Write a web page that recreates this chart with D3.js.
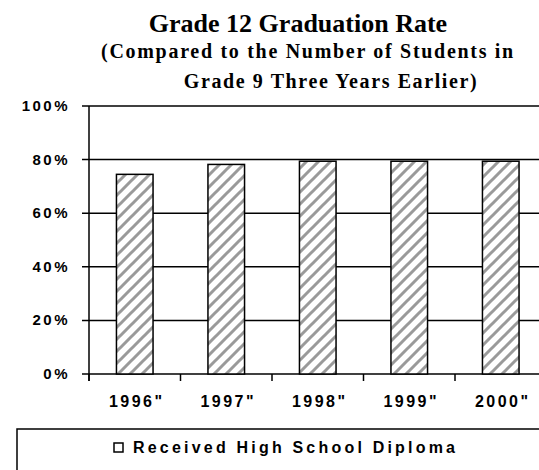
<!DOCTYPE html>
<html>
<head>
<meta charset="utf-8">
<script src="https://cdn.jsdelivr.net/npm/d3@7"></script>
<style>
  body { margin: 0; background: #fff; overflow: hidden; }
  svg { display: block; }
  .ttl { font-family: "Liberation Serif", "Times New Roman", serif; font-weight: bold; }
  .lbl { font-family: "Liberation Sans", Arial, sans-serif; font-weight: bold; }
</style>
</head>
<body>
<svg id="chart" width="539" height="470"></svg>
<script>
// chart data
var years = ["1996\"", "1997\"", "1998\"", "1999\"", "2000\""];
var gradRate = [74.5, 78.2, 79.4, 79.4, 79.4];
var yTicks = [0, 20, 40, 60, 80, 100];
var seriesName = "Received High School Diploma";

var svg = d3.select("#chart");

var x = d3.scaleBand().domain(years).range([89, 546.5]).paddingInner(0.6).paddingOuter(0.3);
var y = d3.scaleLinear().domain([0, 100]).range([374, 106]);

// hatch pattern
var defs = svg.append("defs");
var pat = defs.append("pattern")
    .attr("id", "hatch")
    .attr("patternUnits", "userSpaceOnUse")
    .attr("width", 12).attr("height", 12);
pat.append("rect").attr("width", 12).attr("height", 12).attr("fill", "#fff");
pat.append("path")
    .attr("d", "M-3,3 L3,-3 M0,12 L12,0 M9,15 L15,9")
    .attr("stroke", "#9a9a9a").attr("stroke-width", 3);

// titles
svg.append("text").attr("class", "ttl").attr("x", 298).attr("y", 32)
    .attr("text-anchor", "middle").attr("font-size", 26).text("Grade 12 Graduation Rate");
svg.append("text").attr("class", "ttl").attr("x", 308).attr("y", 58)
    .attr("text-anchor", "middle").attr("font-size", 20).attr("letter-spacing", 1.7)
    .text("(Compared to the Number of Students in");
svg.append("text").attr("class", "ttl").attr("x", 331).attr("y", 88)
    .attr("text-anchor", "middle").attr("font-size", 20).attr("letter-spacing", 1.6)
    .text("Grade 9 Three Years Earlier)");

// gridlines + y ticks
var g = svg.append("g");
g.selectAll(".grid").data(yTicks).enter().append("line")
    .attr("x1", 82).attr("x2", 560)
    .attr("y1", function(d) { return y(d); })
    .attr("y2", function(d) { return y(d); })
    .attr("stroke", "#000").attr("stroke-width", 1.5);

g.selectAll(".ylbl").data(yTicks).enter().append("text")
    .attr("class", "lbl")
    .attr("x", 70)
    .attr("y", function(d) { return y(d) + 5; })
    .attr("text-anchor", "end")
    .attr("font-size", 15)
    .attr("letter-spacing", 2.5)
    .text(function(d) { return d + "%"; });

// y axis line
g.append("line").attr("x1", 89).attr("x2", 89).attr("y1", y(100)).attr("y2", 381)
    .attr("stroke", "#000").attr("stroke-width", 1.5);

// x boundary ticks
var step = x.step();
var bounds = d3.range(years.length + 1).map(function(i) { return x.range()[0] + i * step; });
g.selectAll(".xtick").data(bounds).enter().append("line")
    .attr("x1", function(d) { return d; }).attr("x2", function(d) { return d; })
    .attr("y1", y(0)).attr("y2", 381)
    .attr("stroke", "#000").attr("stroke-width", 1.5);

// bars
g.selectAll(".bar").data(gradRate).enter().append("rect")
    .attr("x", function(d, i) { return x(years[i]); })
    .attr("y", function(d) { return y(d); })
    .attr("width", x.bandwidth())
    .attr("height", function(d) { return y(0) - y(d); })
    .attr("fill", "url(#hatch)")
    .attr("stroke", "#000").attr("stroke-width", 1.5);

// x labels
g.selectAll(".xlbl").data(years).enter().append("text")
    .attr("class", "lbl")
    .attr("x", function(d) { return x(d) + x.bandwidth() / 2 + 2; })
    .attr("y", 407)
    .attr("text-anchor", "middle")
    .attr("font-size", 16)
    .attr("letter-spacing", 2.5)
    .text(function(d) { return d; });

// legend
var lg = svg.append("g");
lg.append("rect").attr("x", 17).attr("y", 429).attr("width", 600).attr("height", 100)
    .attr("fill", "#fff").attr("stroke", "#000").attr("stroke-width", 1.5);
lg.append("rect").attr("x", 114).attr("y", 443).attr("width", 9).attr("height", 9)
    .attr("fill", "#fff").attr("stroke", "#000").attr("stroke-width", 1.5);
lg.append("text").attr("class", "lbl").attr("x", 133).attr("y", 453)
    .attr("font-size", 16).attr("letter-spacing", 3.2).text(seriesName);
</script>
</body>
</html>
